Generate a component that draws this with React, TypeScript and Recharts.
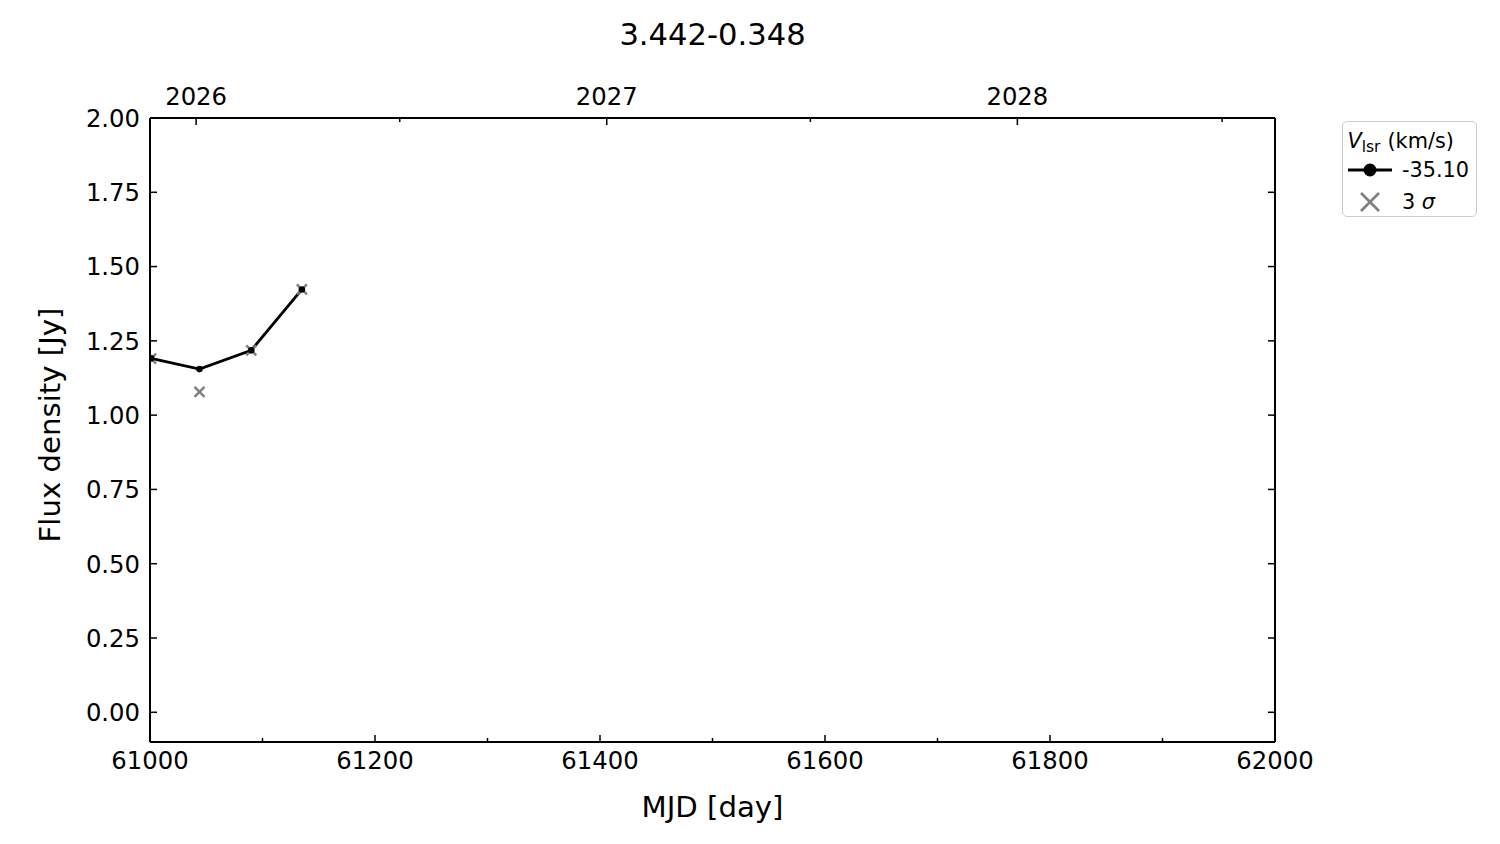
import React from 'react';
import { ComposedChart, Line, Scatter, XAxis, YAxis, Legend } from 'recharts';

// observations (MJD) and measured values
const mjd = [61001, 61044, 61090, 61135];
const flux = [1.191, 1.155, 1.218, 1.423];
const sigma3 = [1.19, 1.078, 1.218, 1.423];

// axis ticks
const mjdMajorTicks = [61000, 61200, 61400, 61600, 61800, 62000];
const mjdMinorTicks = [61100, 61300, 61500, 61700, 61900];
const yearTicks = [61041, 61406, 61771];
const yearLabels = ['2026', '2027', '2028'];
const halfYearTicks = [61222, 61587, 61953];
const fluxTicks = [0, 0.25, 0.5, 0.75, 1, 1.25, 1.5, 1.75, 2];

const rows = mjd.map((m, i) => ({ mjd: m, flux: flux[i], sigma: sigma3[i] }));

const FONT = 'DejaVu Sans';
const TICK_FONT = 24.3;
const LABEL_FONT = 29.2;
const axisLine = { stroke: '#000', strokeWidth: 2 };

const bottomTick = (p: any) => {
    const v = p.payload.value;
    const major = mjdMajorTicks.includes(v);
    return (
        <g>
            <line x1={p.x} x2={p.x} y1={p.y} y2={p.y - (major ? 7 : 4)} stroke="#000" strokeWidth={1.5} />
            {major && (
                <text x={p.x} y={p.y + 26.8} textAnchor="middle" fontSize={TICK_FONT} fontFamily={FONT} fill="#000">{v}</text>
            )}
        </g>
    );
};

const topTick = (p: any) => {
    const v = p.payload.value;
    const idx = yearTicks.indexOf(v);
    return (
        <g>
            <line x1={p.x} x2={p.x} y1={p.y} y2={p.y + (idx >= 0 ? 7 : 4)} stroke="#000" strokeWidth={1.5} />
            {idx >= 0 && (
                <text x={p.x} y={p.y - 12.6} textAnchor="middle" fontSize={TICK_FONT} fontFamily={FONT} fill="#000">{yearLabels[idx]}</text>
            )}
        </g>
    );
};

const leftTick = (p: any) => (
    <g>
        <line x1={p.x} x2={p.x + 7} y1={p.y} y2={p.y} stroke="#000" strokeWidth={1.5} />
        <text x={p.x - 10} y={p.y + 8.9} textAnchor="end" fontSize={TICK_FONT} fontFamily={FONT} fill="#000">
            {Number(p.payload.value).toFixed(2)}
        </text>
    </g>
);

const rightTick = (p: any) => (
    <line x1={p.x} x2={p.x - 7} y1={p.y} y2={p.y} stroke="#000" strokeWidth={1.5} />
);

// y label sits a little above the axis centre, as in the original
const yLabel = () => (
    <text transform="translate(59.7,425) rotate(-90)" textAnchor="middle" fontSize={LABEL_FONT} fontFamily={FONT} fill="#000">
        Flux density [Jy]
    </text>
);

const cross = (p: any) => {
    const { cx, cy } = p;
    const s = 5;
    return (
        <g stroke="#808080" strokeWidth={2.5}>
            <line x1={cx - s} y1={cy - s} x2={cx + s} y2={cy + s} />
            <line x1={cx - s} y1={cy + s} x2={cx + s} y2={cy - s} />
        </g>
    );
};

const LegendBox = () => (
    <div style={{
        position: 'relative', width: 135, height: 96, boxSizing: 'border-box',
        border: '1.5px solid #cccccc', borderRadius: 5, background: '#fff',
        fontFamily: FONT, fontSize: 20.8, color: '#000'
    }}>
        <div style={{ position: 'absolute', left: 4.5, top: 9.2, lineHeight: '20px', whiteSpace: 'nowrap' }}>
            <i>V</i><span style={{ fontSize: 15.5, position: 'relative', top: 4, marginRight: 7 }}>lsr</span>(km/s)
        </div>
        <svg style={{ position: 'absolute', left: 4.5, top: 37.5 }} width={44} height={20}>
            <line x1={0} x2={44} y1={10} y2={10} stroke="#000" strokeWidth={2.8} />
            <circle cx={22} cy={10} r={6.5} fill="#000" />
        </svg>
        <div style={{ position: 'absolute', left: 59, top: 37.5, lineHeight: '20px', whiteSpace: 'nowrap' }}>-35.10</div>
        <svg style={{ position: 'absolute', left: 4.5, top: 69.5 }} width={44} height={20}>
            <g stroke="#808080" strokeWidth={2.6}>
                <line x1={13} y1={1} x2={31} y2={19} />
                <line x1={13} y1={19} x2={31} y2={1} />
            </g>
        </svg>
        <div style={{ position: 'absolute', left: 59, top: 69.5, lineHeight: '20px', whiteSpace: 'nowrap' }}>
            3 <i>σ</i>
        </div>
    </div>
);

export default function App() {
    return (
        <div style={{ position: 'absolute', left: 0, top: 0, width: 1500, height: 844, background: '#fff' }}>
            <ComposedChart width={1500} height={844} data={rows} margin={{ top: 0, right: 0, bottom: 0, left: 0 }}>
                <XAxis
                    xAxisId="bottom" dataKey="mjd" type="number" domain={[61000, 62000]} allowDataOverflow
                    ticks={[...mjdMajorTicks, ...mjdMinorTicks].sort((a, b) => a - b)} interval={0}
                    height={102} tickSize={0} tickMargin={0} tickLine={false} axisLine={axisLine} tick={bottomTick}
                    label={{ value: 'MJD [day]', position: 'insideBottom', offset: 27, fontSize: LABEL_FONT, fontFamily: FONT, fill: '#000' }}
                />
                <XAxis
                    xAxisId="top" dataKey="mjd" orientation="top" type="number" domain={[61000, 62000]} allowDataOverflow
                    ticks={[...yearTicks, ...halfYearTicks].sort((a, b) => a - b)} interval={0}
                    height={118} tickSize={0} tickMargin={0} tickLine={false} axisLine={axisLine} tick={topTick}
                    label={{ value: '3.442-0.348', position: 'insideTop', offset: 23.3, fontSize: 30.6, fontFamily: FONT, fill: '#000' }}
                />
                <YAxis
                    yAxisId="left" type="number" domain={[-0.1, 2]} allowDataOverflow ticks={fluxTicks} interval={0}
                    width={150} tickSize={0} tickMargin={0} tickLine={false} axisLine={axisLine} tick={leftTick}
                    label={{ value: 'Flux density [Jy]', content: yLabel }}
                />
                <YAxis
                    yAxisId="right" orientation="right" type="number" domain={[-0.1, 2]} allowDataOverflow
                    ticks={fluxTicks} interval={0} width={225} tickSize={0} tickMargin={0} tickLine={false}
                    axisLine={axisLine} tick={rightTick}
                />
                {/* invisible series so the calendar axis on top gets its scale */}
                <Scatter
                    xAxisId="top" yAxisId="right" data={rows} dataKey="flux" shape={() => <g />}
                    isAnimationActive={false} legendType="none"
                />
                <Scatter
                    xAxisId="bottom" yAxisId="left" data={rows} dataKey="sigma" name="3 sigma"
                    shape={cross} isAnimationActive={false}
                />
                <Line
                    xAxisId="bottom" yAxisId="left" type="linear" dataKey="flux" name="-35.10"
                    stroke="#000" strokeWidth={2.8} dot={{ r: 3.3, fill: '#000', stroke: '#000', strokeWidth: 0 }}
                    activeDot={false} isAnimationActive={false}
                />
                <Legend
                    content={() => <LegendBox />} layout="vertical" align="center" verticalAlign="middle"
                    wrapperStyle={{ left: 1342, top: 121, width: 135, height: 96 }}
                />
            </ComposedChart>
        </div>
    );
}
